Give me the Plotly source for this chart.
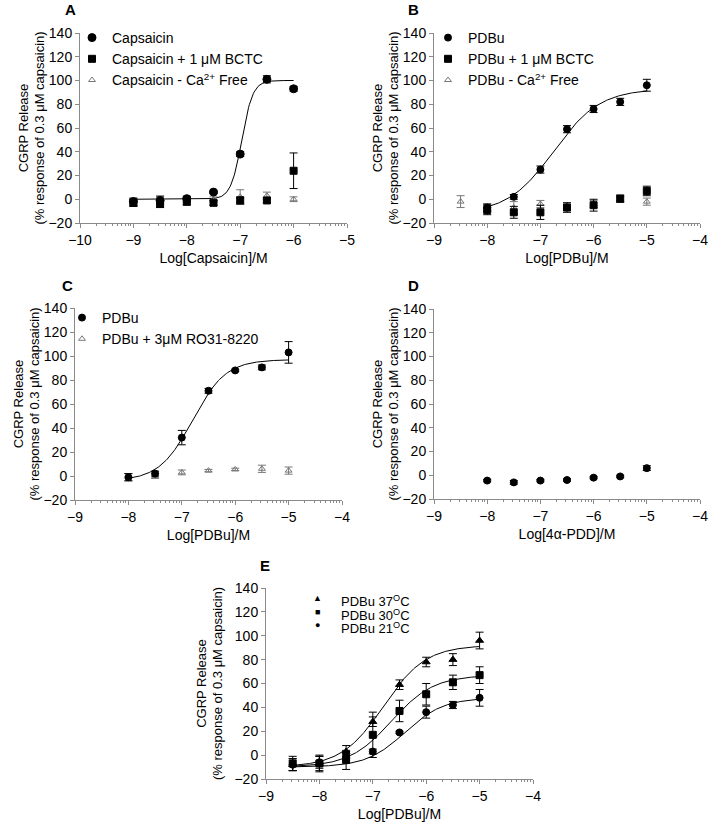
import numpy as np
import plotly.graph_objects as go

# ---- data ----
# panel A: capsaicin
a_x = [-9, -8.5, -8, -7.5, -7, -6.5, -6]
a_caps_y = [-2, -1, 0.5, 6, 38, 101, 93]
a_caps_err = [3, 3, 2, 1, 2, 3, 2]
a_bctc_y = [-3, -4, -2, -3, -1, -1, 24]
a_bctc_err = [3, 3, 3, 2, 3, 2, 15]
a_ca_y = [-3, 0, -1, 0, 2, 3, 0]
a_ca_err = [3, 3, 3, 2, 6, 3, 2]
a_fit = dict(bottom=0, top=100, logec50=-6.97, hill=4.2, x0=-9, x1=-6)

# panel B: PDBu
b_x = [-8, -7.5, -7, -6.5, -6, -5.5, -5]
b_pdbu_y = [-7, 2, 25, 59, 76, 82, 96]
b_pdbu_err = [3, 2, 3, 3, 3, 3, 5]
b_bctc_y = [-9, -11, -11, -7, -5, 0.5, 7]
b_bctc_err = [4, 5, 6, 4, 5, 3, 4]
b_ca_x = [-8.5, -8, -7.5, -7, -6.5, -6, -5.5, -5]
b_ca_y = [-2, -7, -7, -4, -6, -4, 0, -2]
b_ca_err = [5, 3, 5, 3, 3, 3, 2, 3]
b_fit = dict(bottom=-12, top=93, logec50=-6.75, hill=1.0, x0=-8, x1=-5)

# panel C: PDBu +/- RO31-8220
c_x = [-8, -7.5, -7, -6.5, -6, -5.5, -5]
c_pdbu_y = [-1, 2, 32, 71, 88, 90.5, 103]
c_pdbu_err = [3, 2, 6, 2, 1, 2, 9]
c_ro_y = [-1, 0, 3, 4.5, 5.5, 6, 4.5]
c_ro_err = [3, 2, 2, 1, 1, 3, 3]
c_fit = dict(bottom=-4, top=97, logec50=-6.8, hill=1.4, x0=-8, x1=-5)

# panel D: 4alpha-PDD
d_x = [-8, -7.5, -7, -6.5, -6, -5.5, -5]
d_y = [-4.5, -6, -4.5, -4, -2, -1, 6]
d_err = [1, 1.5, 1, 1, 1, 1, 2]

# panel E: temperature
e_x = [-8.5, -8, -7.5, -7, -6.5, -6, -5.5, -5]
e37_y = [-8, -7, 3, 28, 59, 78, 80, 96]
e37_err = [5, 6, 5, 4, 4, 4, 5, 7]
e30_y = [-7, -7, -4, 17, 37, 51, 61, 67]
e30_err = [6, 7, 8, 19, 9, 9, 6, 7]
e21_y = [-8, -6, 0, 3, 19, 36, 42, 48]
e21_err = [5, 5, 3, 2, 1, 5, 3, 7]
e37_fit = dict(bottom=-10, top=92, logec50=-6.8, hill=1.1, x0=-8.5, x1=-5)
e30_fit = dict(bottom=-10, top=67, logec50=-6.65, hill=1.1, x0=-8.5, x1=-5)
e21_fit = dict(bottom=-10, top=48, logec50=-6.4, hill=1.2, x0=-8.5, x1=-5)
e_labels = ["PDBu 37<sup>O</sup>C", "PDBu 30<sup>O</sup>C", "PDBu 21<sup>O</sup>C"]
e_symbols = ["▲", "■", "●"]

W, H = 709, 824
FONT = "Liberation Sans, Arial, sans-serif"
AXC = "#8a8a8a"
TRI = "#777777"


def sigmoid(p):
    xs = np.linspace(p["x0"], p["x1"], 200)
    ys = p["bottom"] + (p["top"] - p["bottom"]) / (1 + 10 ** ((p["logec50"] - xs) * p["hill"]))
    return xs, ys


def points(x, y, err, name, symbol, size, color, ax, legend, show=True):
    return go.Scatter(
        x=x, y=y, mode="markers", name=name,
        marker=dict(symbol=symbol, size=size, color=color,
                    line=dict(color=color, width=1)),
        error_y=dict(type="data", array=err, color=color, thickness=1, width=4),
        xaxis="x" + ax, yaxis="y" + ax, legend=legend, showlegend=show,
    )


def curve(p, ax):
    xs, ys = sigmoid(p)
    return go.Scatter(x=xs, y=ys, mode="lines", line=dict(color="black", width=1),
                      xaxis="x" + ax, yaxis="y" + ax, showlegend=False, hoverinfo="skip")


fig = go.Figure()

# A
fig.add_trace(curve(a_fit, ""))
fig.add_trace(points(a_x, a_ca_y, a_ca_err, "Capsaicin - Ca<sup>2+</sup> Free",
                     "triangle-up-open", 6, TRI, "", "legend"))
fig.add_trace(points(a_x, a_bctc_y, a_bctc_err, "Capsaicin + 1 μM BCTC",
                     "square", 7, "black", "", "legend"))
fig.add_trace(points(a_x, a_caps_y, a_caps_err, "Capsaicin",
                     "circle", 8, "black", "", "legend"))

# B
fig.add_trace(curve(b_fit, "2"))
fig.add_trace(points(b_ca_x, b_ca_y, b_ca_err, "PDBu - Ca<sup>2+</sup> Free",
                     "triangle-up-open", 6, TRI, "2", "legend2"))
fig.add_trace(points(b_x, b_bctc_y, b_bctc_err, "PDBu + 1 μM BCTC",
                     "square", 7, "black", "2", "legend2"))
fig.add_trace(points(b_x, b_pdbu_y, b_pdbu_err, "PDBu",
                     "circle", 7, "black", "2", "legend2"))

# C
fig.add_trace(curve(c_fit, "3"))
fig.add_trace(points(c_x, c_ro_y, c_ro_err, "PDBu + 3μM RO31-8220",
                     "triangle-up-open", 6, TRI, "3", "legend3"))
fig.add_trace(points(c_x, c_pdbu_y, c_pdbu_err, "PDBu",
                     "circle", 7, "black", "3", "legend3"))

# D
fig.add_trace(points(d_x, d_y, d_err, "4α-PDD", "circle", 7, "black", "4", "legend", show=False))

# E (legend drawn as text below, rows are tighter than plotly legends allow)
fig.add_trace(curve(e37_fit, "5"))
fig.add_trace(curve(e30_fit, "5"))
fig.add_trace(curve(e21_fit, "5"))
fig.add_trace(points(e_x, e21_y, e21_err, e_labels[2], "circle", 7, "black", "5", "legend", show=False))
fig.add_trace(points(e_x, e30_y, e30_err, e_labels[1], "square", 7, "black", "5", "legend", show=False))
fig.add_trace(points(e_x, e37_y, e37_err, e_labels[0], "triangle-up", 7, "black", "5", "legend", show=False))

# panel boxes in pixels: (left, right, top, bottom, x range, x title, y title standoff)
boxes = {
    "": (80, 347, 33, 223, [-10, -5], "Log[Capsaicin]/M", 0),
    "2": (434, 700, 33, 223, [-9, -4], "Log[PDBu]/M", 0),
    "3": (75, 342, 308, 500, [-9, -4], "Log[PDBu]/M", 0),
    "4": (434, 700, 309, 499, [-9, -4], "Log[4α-PDD]/M", 0),
    "5": (266, 533, 588, 779, [-9, -4], "Log[PDBu]/M", 8),
}

layout = {}
for ax, (l, r, t, b, xr, xt, ys) in boxes.items():
    minor_vals = [m + np.log10(k) for m in range(int(xr[0]), int(xr[1])) for k in range(2, 10)]
    layout["xaxis" + ax] = dict(
        domain=[l / W, r / W], anchor="y" + ax, range=xr, dtick=1, automargin=False,
        showline=True, linecolor=AXC, linewidth=1, ticks="outside", ticklen=4,
        tickcolor=AXC, showgrid=False, zeroline=False, ticklabeloverflow="allow",
        minor=dict(tickvals=minor_vals, ticks="outside", ticklen=2, tickcolor=AXC),
        tickfont=dict(size=14, color="black"),
        title=dict(text=xt, font=dict(size=14, color="black"), standoff=6),
    )
    layout["yaxis" + ax] = dict(
        domain=[1 - b / H, 1 - t / H], anchor="x" + ax, range=[-20, 140], dtick=20,
        automargin=False,
        showline=True, linecolor=AXC, linewidth=1, ticks="outside", ticklen=4,
        tickcolor=AXC, showgrid=False, zeroline=False,
        tickfont=dict(size=14, color="black"),
        title=dict(text="CGRP Release<br>(% response of 0.3 μM capsaicin)",
                   font=dict(size=13, color="black"), standoff=ys),
    )

leg = dict(font=dict(size=14, color="black", family=FONT), bgcolor="rgba(0,0,0,0)",
           itemwidth=30, traceorder="reversed", xanchor="left", yanchor="top",
           tracegroupgap=0, itemclick=False)
layout["legend"] = dict(leg, x=72 / W, y=1 - 22 / H)
layout["legend2"] = dict(leg, x=428 / W, y=1 - 22 / H)
layout["legend3"] = dict(leg, x=62 / W, y=1 - 302 / H)

letters = [("A", 70, 10), ("B", 413, 10), ("C", 67, 285), ("D", 413, 285), ("E", 265, 565)]
annotations = [
    dict(text="<b>%s</b>" % s, x=px / W, y=1 - py / H, xref="paper", yref="paper",
         showarrow=False, font=dict(size=15, color="black"), xanchor="center", yanchor="middle")
    for s, px, py in letters
]
for i, (lab, sym) in enumerate(zip(e_labels, e_symbols)):
    yy = 1 - (598 + 13.5 * i) / H
    annotations.append(dict(text=sym, x=317 / W, y=yy, xref="paper", yref="paper",
                            showarrow=False, font=dict(size=9, color="black"),
                            xanchor="center", yanchor="middle"))
    annotations.append(dict(text=lab, x=339 / W, y=yy - 3 / H, xref="paper", yref="paper",
                            showarrow=False, font=dict(size=13, color="black"),
                            xanchor="left", yanchor="middle"))

fig.update_layout(
    width=W, height=H, margin=dict(l=0, r=0, t=0, b=0, autoexpand=False),
    paper_bgcolor="white", plot_bgcolor="white",
    font=dict(family=FONT, color="black"),
    annotations=annotations, **layout,
)

# the page body has a default 8px margin; drop it so the figure fills the window
fig.write_html("out.html", config={"displayModeBar": False},
               post_script="document.body.style.margin = '0px';")
